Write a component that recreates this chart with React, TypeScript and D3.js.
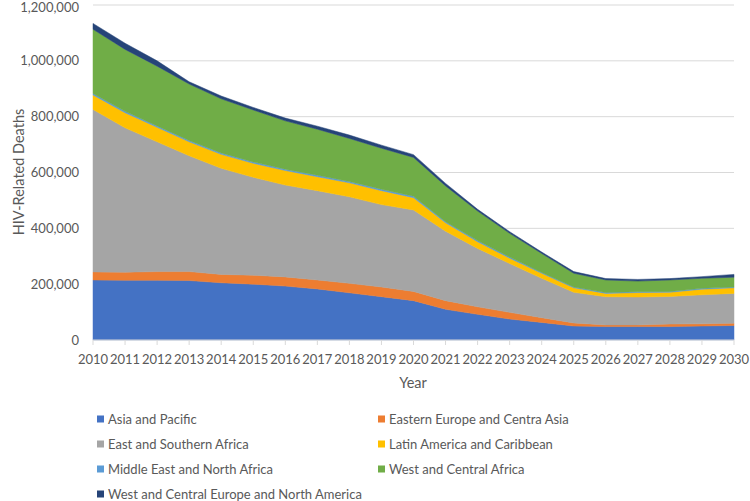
import React from "react";
import * as d3 from "d3";

const years = [2010, 2011, 2012, 2013, 2014, 2015, 2016, 2017, 2018, 2019, 2020, 2021, 2022, 2023, 2024, 2025, 2026, 2027, 2028, 2029, 2030];

const seriesNames = [
  "Asia and Pacific",
  "Eastern Europe and Centra Asia",
  "East and Southern Africa",
  "Latin America and Caribbean",
  "Middle East and North Africa",
  "West and Central Africa",
  "West and Central Europe and North America",
];

const seriesColors = ["#4472C4", "#ED7D31", "#A5A5A5", "#FFC000", "#5B9BD5", "#70AD47", "#264478"];

// values in thousands
const asiaPacific = [215, 214, 214, 213, 205, 200, 193, 183, 169, 155, 141, 110, 92, 75, 63, 50, 48, 48, 48, 50, 52];
const easternEurope = [29, 29, 31, 32, 30, 32, 33, 32, 34, 35, 33, 31, 27, 24, 17, 11, 6, 6, 9, 8, 8];
const eastSouthernAfrica = [582, 517, 465, 415, 380, 351, 329, 320, 310, 295, 292, 249, 209, 175, 141, 110, 101, 100, 99, 104, 107];
const latinAmerica = [52, 54, 52, 50, 50, 50, 52, 50, 50, 50, 44, 30, 24, 19, 18, 16, 12, 16, 15, 20, 20];
const middleEast = [5, 5, 5, 5, 5, 5, 5, 5, 5, 5, 5, 4, 4, 4, 3, 3, 3, 3, 3, 3, 3];
const westCentralAfrica = [230, 222, 214, 202, 194, 186, 173, 165, 154, 147, 139, 128, 106, 85, 68, 49, 45, 38, 41, 36, 35];
const westCentralEurope = [21, 22, 19, 8, 10, 9, 10, 11, 12, 11, 10, 9, 6, 6, 5, 6, 5, 6, 5, 6, 10];

const seriesValues = [asiaPacific, easternEurope, eastSouthernAfrica, latinAmerica, middleEast, westCentralAfrica, westCentralEurope];

const yTicks = [0, 200000, 400000, 600000, 800000, 1000000, 1200000];

const W = 750;
const H = 501;
const FONT = "Lato, 'Open Sans', sans-serif";
const TEXT = "#595959";

export default function App() {
  const left = 93;
  const right = 734;
  const top = 5;
  const bottom = 340;

  const x = d3.scaleLinear().domain([2010, 2030]).range([left, right]);
  const y = d3.scaleLinear().domain([0, 1200000]).range([bottom, top]);

  const table = years.map((yr, i) => {
    const row: any = { year: yr };
    seriesNames.forEach((n, s) => (row[n] = seriesValues[s][i] * 1000));
    return row;
  });

  const stack = d3.stack().keys(seriesNames);
  const layers = stack(table as any);

  const area = d3
    .area<any>()
    .x((d) => x(d.data.year))
    .y0((d) => y(d[0]))
    .y1((d) => y(d[1]));

  const fmt = d3.format(",");

  const legendItems = seriesNames.map((n, i) => {
    const col = i % 2;
    const row = Math.floor(i / 2);
    return { n, c: seriesColors[i], lx: col === 0 ? 97 : 378, ly: 419 + row * 25 };
  });

  return (
    <svg width={W} height={H} style={{ position: "absolute", left: 0, top: 0, background: "#fff" }} fontFamily={FONT}>
      <rect width={W} height={H} fill="#fff" />
      {yTicks.map((t) => (
        <g key={t}>
          {t > 0 && <line x1={left} x2={right} y1={y(t)} y2={y(t)} stroke="#D9D9D9" strokeWidth={1} />}
          <text x={79} y={Math.max(y(t), 7)} dy="0.35em" textAnchor="end" fontSize={13} fill={TEXT}>
            {fmt(t)}
          </text>
        </g>
      ))}
      {layers.map((layer, i) => (
        <path key={i} d={area(layer as any) || ""} fill={seriesColors[i]} stroke={seriesColors[i]} strokeWidth={0.5} />
      ))}
      <line x1={left} x2={right} y1={bottom} y2={bottom} stroke="#D9D9D9" strokeWidth={1} />
      {years.map((yr) => (
        <g key={yr}>
          <line x1={x(yr)} x2={x(yr)} y1={bottom} y2={bottom + 5} stroke="#D9D9D9" strokeWidth={1} />
          <text x={x(yr)} y={359} dy="0.35em" textAnchor="middle" fontSize={13} fill={TEXT}>
            {yr}
          </text>
        </g>
      ))}
      <text x={413} y={383} dy="0.35em" textAnchor="middle" fontSize={14.5} fill={TEXT}>
        Year
      </text>
      <text transform={`translate(19,172) rotate(-90)`} dy="0.35em" textAnchor="middle" fontSize={14.5} fill={TEXT}>
        HIV-Related Deaths
      </text>
      {legendItems.map((it) => (
        <g key={it.n}>
          <rect x={it.lx} y={it.ly - 3.5} width={7} height={7} fill={it.c} />
          <text x={it.lx + 11} y={it.ly} dy="0.35em" fontSize={13} fill={TEXT}>
            {it.n}
          </text>
        </g>
      ))}
    </svg>
  );
}
